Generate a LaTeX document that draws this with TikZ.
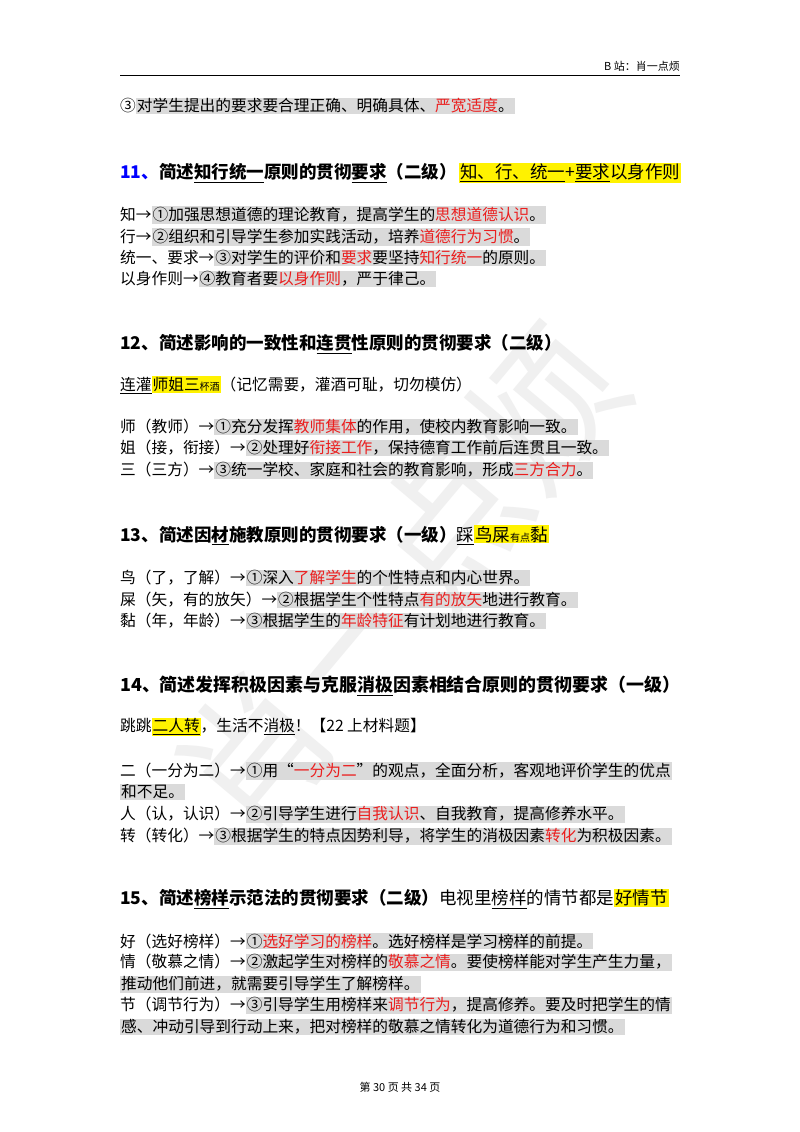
\documentclass[tikz,border=0pt]{standalone}
\usepackage{fontspec}
\setmainfont{Noto Sans CJK SC}
\usepackage{xcolor}
\definecolor{hlg}{RGB}{218,218,218}
\definecolor{myred}{RGB}{235,30,30}
\newcommand{\gr}[1]{{\setlength{\fboxsep}{1pt}\colorbox{hlg}{#1}}}
\newcommand{\yl}[1]{{\setlength{\fboxsep}{1pt}\colorbox{yellow}{#1}}}
\newcommand{\rd}[1]{\textcolor{myred}{#1}}
\begin{document}
\begin{tikzpicture}[x=1pt,y=-1pt,
  body/.style={anchor=west,inner sep=0pt,font=\fontsize{15.7}{18}\selectfont},
  head/.style={anchor=west,inner sep=0pt,font=\fontsize{17.5}{20}\selectfont\bfseries}]
\useasboundingbox[fill=white] (0,0) rectangle (800,1132);
\node[rotate=50,text=black!6,font=\fontsize{150}{150}\selectfont] (wm) at (400,580) {肖一点烦};
\node[anchor=east,inner sep=0pt,font=\fontsize{11}{13}\selectfont] (hd) at (680,66) {B 站：肖一点烦};
\draw[line width=0.6pt] (120,75) -- (680,75);
\node[body] (a0) at (120,106) {③\gr{对学生提出的要求要合理正确、明确具体、\rd{严宽适度}。}};

\node[head] (h11) at (120,173) {\textcolor{blue}{11、}简述\underline{知行统一}原则的贯彻\underline{要求}（二级）\,\yl{\mdseries\underline{知、行、统一}+\underline{要求}以身作则}};
\node[body] (b1) at (120,215) {知→\gr{①加强思想道德的理论教育，提高学生的\rd{思想道德认识}。}};
\node[body] (b2) at (120,237) {行→\gr{②组织和引导学生参加实践活动，培养\rd{道德行为习惯}。}};
\node[body] (b3) at (120,258) {统一、要求→\gr{③对学生的评价和\rd{要求}要坚持\rd{知行统一}的原则。}};
\node[body] (b4) at (120,279) {以身作则→\gr{④教育者要\rd{以身作则}，严于律己。}};

\node[head] (h12) at (120,344) {12、简述影响的一致性和\underline{连贯}性原则的贯彻要求（二级）};
\node[body] (c0) at (120,385) {\underline{连灌}\yl{师姐三{\fontsize{10}{12}\selectfont 杯酒}}（记忆需要，灌酒可耻，切勿模仿）};
\node[body] (c1) at (120,427) {师（教师）→\gr{①充分发挥\rd{教师集体}的作用，使校内教育影响一致。}};
\node[body] (c2) at (120,448) {姐（接，衔接）→\gr{②处理好\rd{衔接工作}，保持德育工作前后连贯且一致。}};
\node[body] (c3) at (120,470) {三（三方）→\gr{③统一学校、家庭和社会的教育影响，形成\rd{三方合力}。}};

\node[head] (h13) at (120,535) {13、简述因\underline{材}施教原则的贯彻要求（一级）{\mdseries\underline{踩}\yl{鸟屎{\fontsize{10}{12}\selectfont 有点}黏}}};
\node[body] (d1) at (120,578) {鸟（了，了解）→\gr{①深入\rd{了解学生}的个性特点和内心世界。}};
\node[body] (d2) at (120,600) {屎（矢，有的放矢）→\gr{②根据学生个性特点\rd{有的放矢}地进行教育。}};
\node[body] (d3) at (120,621) {黏（年，年龄）→\gr{③根据学生的\rd{年龄特征}有计划地进行教育。}};

\node[head,anchor=west] (h14) at (120,686) {\resizebox{560pt}{!}{14、简述发挥积极因素与克服\underline{消极}因素相结合原则的贯彻要求（一级）}};
\node[body] (e0) at (120,727) {跳跳\yl{\underline{二人转}}，生活不\underline{消极}！【22 上材料题】};
\node[body] (e1) at (120,771) {二（一分为二）→\gr{①用“\rd{一分为二}”的观点，全面分析，客观地评价学生的优点}};
\node[body] (e1b) at (120,792) {\gr{和不足。}};
\node[body] (e2) at (120,814) {人（认，认识）→\gr{②引导学生进行\rd{自我认识}、自我教育，提高修养水平。}};
\node[body] (e3) at (120,836) {转（转化）→\gr{③根据学生的特点因势利导，将学生的消极因素\rd{转化}为积极因素。}};

\node[head] (h15) at (120,899) {15、简述\underline{榜样}示范法的贯彻要求（二级）{\mdseries 电视里\underline{榜样}的情节都是\yl{好情节}}};
\node[body] (f1) at (120,941) {好（选好榜样）→\gr{①\rd{选好学习的榜样}。选好榜样是学习榜样的前提。}};
\node[body] (f2) at (120,962) {情（敬慕之情）→\gr{②激起学生对榜样的\rd{敬慕之情}。要使榜样能对学生产生力量，}};
\node[body] (f2b) at (120,984) {\gr{推动他们前进，就需要引导学生了解榜样。}};
\node[body] (f3) at (120,1005) {节（调节行为）→\gr{③引导学生用榜样来\rd{调节行为}，提高修养。要及时把学生的情}};
\node[body] (f3b) at (120,1027) {\gr{感、冲动引导到行动上来，把对榜样的敬慕之情转化为道德行为和习惯。}};

\node[inner sep=0pt,font=\fontsize{11}{13}\selectfont] (ft) at (400,1087) {第 30 页 共 34 页};
\end{tikzpicture}
\end{document}
